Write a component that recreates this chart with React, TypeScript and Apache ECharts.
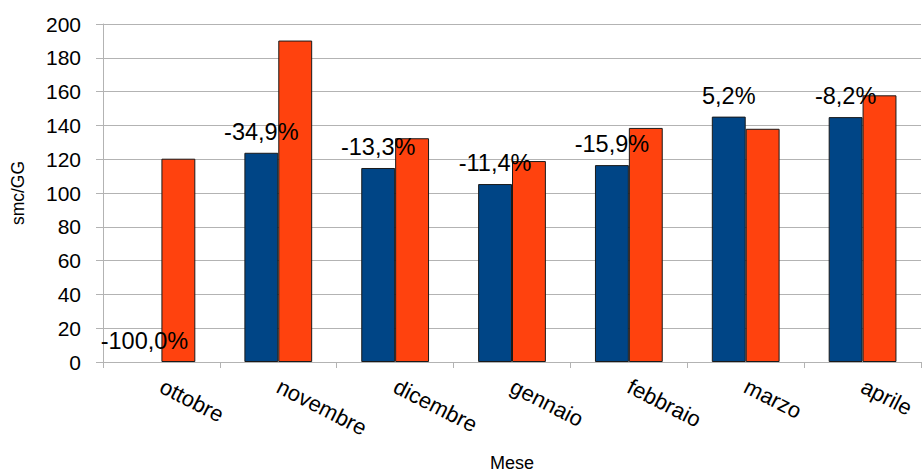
import React, { useEffect, useRef } from "react";
import * as echarts from "echarts";

const categories = ["ottobre", "novembre", "dicembre", "gennaio", "febbraio", "marzo", "aprile"];
const seriesA = [0, 123.8, 114.8, 105.3, 116.5, 145.2, 144.9];
const seriesB = [120.3, 190.2, 132.4, 118.9, 138.5, 138.0, 157.8];
const pctLabels = ["-100,0%", "-34,9%", "-13,3%", "-11,4%", "-15,9%", "5,2%", "-8,2%"];

const FONT = "'Liberation Sans', Arial, sans-serif";

export default function App() {
  const ref = useRef<HTMLDivElement>(null);
  useEffect(() => {
    if (!ref.current) return;
    const chart = echarts.init(ref.current, null, { renderer: "svg" });
    const dataA = seriesA.map((v) => (v === 0 ? { value: v, itemStyle: { borderWidth: 0 } } : v));
    chart.setOption({
      animation: false,
      textStyle: { fontFamily: FONT },
      grid: { left: 103, right: 1, top: 24, bottom: 111, containLabel: false, outerBoundsMode: "none" },
      xAxis: {
        type: "category",
        data: categories,
        name: "Mese",
        nameLocation: "middle",
        nameGap: 92,
        nameTextStyle: { fontSize: 18, color: "#000", fontFamily: FONT },
        axisLine: { show: true, lineStyle: { color: "#b3b3b3" } },
        axisTick: { show: true, length: 6, alignWithLabel: false, lineStyle: { color: "#b3b3b3" } },
        axisLabel: { rotate: -27, fontSize: 22, color: "#000", margin: 23, fontFamily: FONT, interval: 0 },
      },
      yAxis: {
        type: "value",
        min: 0,
        max: 200,
        interval: 20,
        name: "smc/GG",
        nameLocation: "middle",
        nameGap: 76,
        nameTextStyle: { fontSize: 17.5, color: "#000", fontFamily: FONT },
        axisLine: { show: true, lineStyle: { color: "#b3b3b3" } },
        axisTick: { show: true, length: 7, lineStyle: { color: "#b3b3b3" } },
        axisLabel: { fontSize: 21, color: "#000", margin: 22, fontFamily: FONT },
        splitLine: { show: true, lineStyle: { color: "#b3b3b3", width: 1 } },
      },
      series: [
        {
          type: "bar",
          data: dataA,
          barGap: "0%",
          barCategoryGap: "42%",
          itemStyle: { color: "#004586", borderColor: "#1a1a1a", borderWidth: 1 },
          label: {
            show: true,
            position: "top",
            distance: 9,
            fontSize: 23.5,
            color: "#000",
            fontFamily: FONT,
            formatter: (p: any) => pctLabels[p.dataIndex],
          },
          z: 3,
        },
        {
          type: "bar",
          data: seriesB,
          barGap: "0%",
          barCategoryGap: "42%",
          itemStyle: { color: "#ff420e", borderColor: "#1a1a1a", borderWidth: 1 },
          z: 2,
        },
      ],
    });
    return () => chart.dispose();
  }, []);
  return (
    <div
      ref={ref}
      style={{ position: "fixed", left: 0, top: 0, width: 922, height: 473, background: "#fff" }}
    />
  );
}
